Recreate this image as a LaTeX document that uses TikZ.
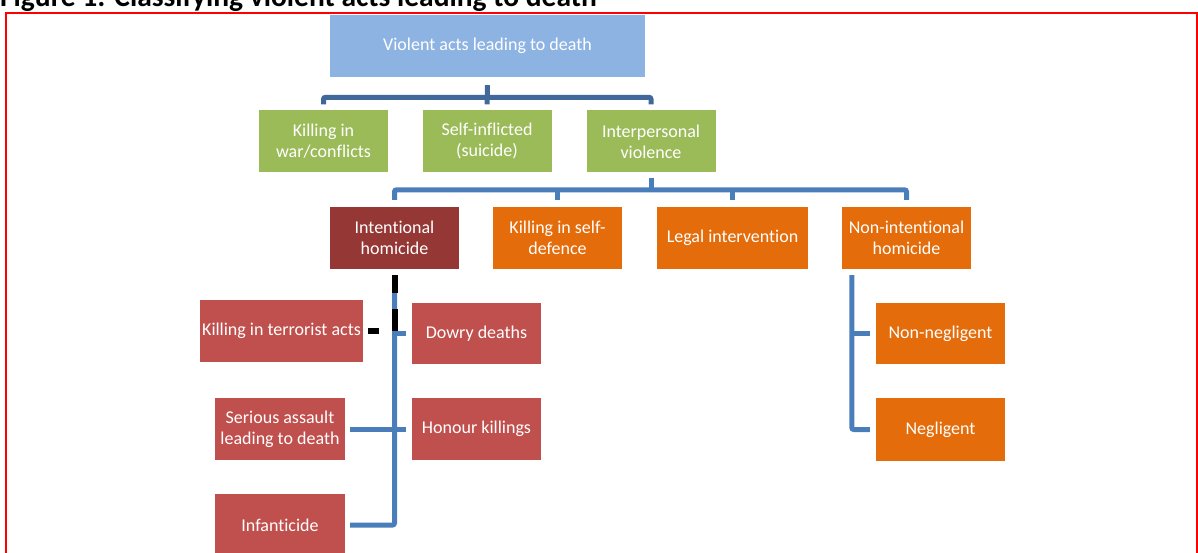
\documentclass[tikz,border=0pt]{standalone}
\usepackage{fontspec}
\setmainfont{Carlito}[Ligatures=NoCommon]
\usepackage{xcolor}
\usetikzlibrary{calc}
\definecolor{rootblue}{RGB}{141,179,226}
\definecolor{leafgreen}{RGB}{155,187,89}
\definecolor{darkred}{RGB}{149,55,53}
\definecolor{softred}{RGB}{192,80,77}
\definecolor{orangebox}{RGB}{228,108,10}
\definecolor{linktop}{RGB}{64,104,154}
\definecolor{linkblue}{RGB}{74,126,187}

\begin{document}
\begin{tikzpicture}[x=1pt, y=-1pt,
		box/.style={rectangle, inner sep=0pt, minimum width=129pt, minimum height=62pt,
			align=center, text=white, font=\fontsize{18}{21}\selectfont},
		linkA/.style={draw=linktop, line width=5pt, rounded corners=2pt},
		linkB/.style={draw=linkblue, line width=5pt, rounded corners=2pt},
		stub/.style={draw=black, line width=6pt}]
		\useasboundingbox (0,0) rectangle (1198,553);
		% Frame and title
		\draw[red, line width=1.5pt] (6,13) rectangle (1197,570);
		\node[anchor=base west, inner sep=0pt, font=\bfseries\fontsize{29.5}{34}\selectfont] (title) at (0,7)
			{Figure 1: Classifying violent acts leading to death};
		% Top level
		\node[box, fill=rootblue, minimum width=315pt] (root) at (487.5,46) {Violent acts leading to death};
		% Second level
		\node[box, fill=leafgreen] (war) at (323.5,141.5) {Killing in\\war/conflicts};
		\node[box, fill=leafgreen] (self) at (487,141.5) {Self-inflicted\\(suicide)};
		\node[box, fill=leafgreen] (inter) at (651,141.5) {Interpersonal\\violence};
		% Third level
		\node[box, fill=darkred] (intent) at (394.5,238) {Intentional\\homicide};
		\node[box, fill=orangebox] (selfdef) at (557.5,238) {Killing in self-\\defence};
		\node[box, fill=orangebox, minimum width=151pt] (legal) at (732.5,238) {Legal intervention};
		\node[box, fill=orangebox] (nonint) at (906.5,238) {Non-intentional\\homicide};
		% Kinds of intentional homicide
		\node[box, fill=softred, minimum width=163pt] (terror) at (281.5,331) {Killing in terrorist acts};
		\node[box, fill=softred, minimum height=61pt] (dowry) at (476.5,333.5) {Dowry deaths};
		\node[box, fill=softred, minimum width=130pt] (assault) at (280,429) {Serious assault\\leading to death};
		\node[box, fill=softred] (honour) at (476.5,429) {Honour killings};
		\node[box, fill=softred, minimum width=130pt] (infant) at (280,525) {Infanticide};
		% Kinds of non-intentional homicide
		\node[box, fill=orangebox, minimum height=61pt] (nonneg) at (940.5,333.5) {Non-negligent};
		\node[box, fill=orangebox, minimum height=63pt] (neg) at (940.5,429.5) {Negligent};

		% Links from the top
		\draw[linkA] ([yshift=6pt]war.north) -- ([yshift=13pt]war.north)
			-- ([yshift=13pt]inter.north) -- ([yshift=6pt]inter.north);
		\draw[linkA] ([yshift=-8pt]root.south) -- ([yshift=6pt]self.north);
		% Links below interpersonal violence
		\draw[linkB] ([yshift=7pt]intent.north) -- ([yshift=17pt]intent.north)
			-- ([yshift=17pt]nonint.north) -- ([yshift=7pt]nonint.north);
		\draw[linkB] ([yshift=-5pt]inter.south) -- ([yshift=17pt]intent.north -| inter.south);
		\draw[linkB] ([yshift=7pt]selfdef.north) -- ([yshift=17pt]selfdef.north);
		\draw[linkB] ([yshift=7pt]legal.north) -- ([yshift=17pt]legal.north);
		% Intentional homicide branches
		\draw[linkB] ([yshift=-6pt]intent.south) |- ([xshift=5pt]infant.east);
		\draw[linkB] ([xshift=5pt]assault.east) -- ([xshift=-6pt]honour.west);
		\draw[linkB] (intent.south |- dowry.west) -- ([xshift=-6pt]dowry.west);
		\draw[stub] ([yshift=-6pt]intent.south) -- ++(0,18);
		\draw[stub] (intent.south |- terror.east) -- ++(0,-22);
		\draw[stub] ([xshift=5pt]terror.east) -- ++(11,0);
		% Non-intentional homicide branches
		\draw[linkB] ([xshift=10pt,yshift=-6pt]nonint.south west) |- ([xshift=-6pt]neg.west);
		\draw[linkB] ([xshift=10pt]nonint.south west |- nonneg.west) -- ([xshift=-6pt]nonneg.west);
	\end{tikzpicture}
\end{document}
